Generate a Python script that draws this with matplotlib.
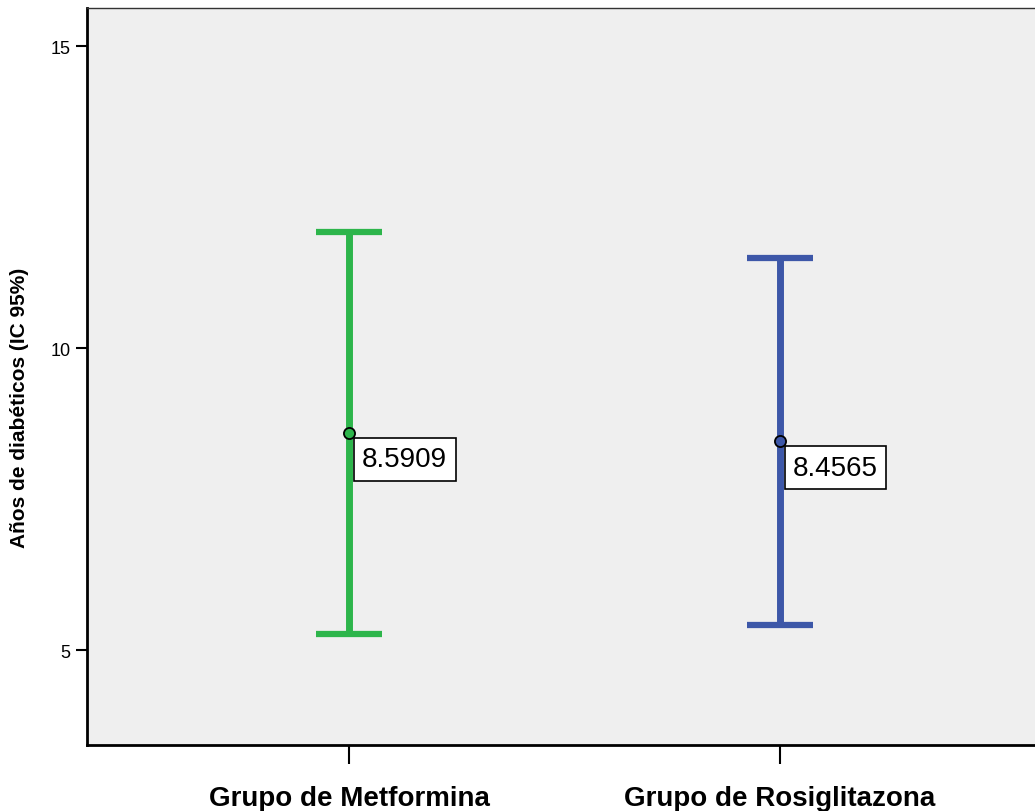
import matplotlib
matplotlib.use("Agg")
import matplotlib.pyplot as plt

# grupos y valores (media e IC 95%)
grupos = ["Grupo de Metformina", "Grupo de Rosiglitazona"]
medias = [8.5909, 8.4565]
ic_inf = [5.26, 5.41]
ic_sup = [11.93, 11.49]
colores = ["#2db54b", "#3d57a8"]

plt.rcParams['font.family'] = ['Liberation Sans', 'DejaVu Sans']

fig = plt.figure(figsize=(10.35, 8.12), dpi=100)
ax = fig.add_axes([87 / 1035, 1 - 746 / 812, 1 - 87 / 1035, (746 - 9) / 812])
ax.set_facecolor("#efefef")

for i in range(len(grupos)):
    err = [[medias[i] - ic_inf[i]], [ic_sup[i] - medias[i]]]
    ax.errorbar([i], [medias[i]], yerr=err, fmt='none', ecolor=colores[i],
                elinewidth=5, capsize=24, capthick=4.5, zorder=2)
    ax.plot([i], [medias[i]], 'o', markersize=8, markerfacecolor=colores[i],
            markeredgecolor='black', markeredgewidth=1.3, zorder=3)
    ax.annotate("%.4f" % medias[i], xy=(i, medias[i]), xytext=(9.5, -9.5),
                textcoords='offset points', ha='left', va='top', fontsize=20,
                bbox=dict(boxstyle='square,pad=0.3', facecolor='white',
                          edgecolor='black', linewidth=1.2), zorder=4)

ax.set_xlim(-0.608, 1.592)
ax.set_ylim(3.43, 15.63)
ax.set_yticks([5, 10, 15])
ax.set_xticks(range(len(grupos)))
ax.set_xticklabels(grupos, fontsize=20, fontweight='bold')
ax.tick_params(axis='y', labelsize=13, length=8, width=1.5, pad=4)
ax.tick_params(axis='x', length=14, width=1.5, pad=15)
ax.set_ylabel("Años de diabéticos (IC 95%)", fontsize=15, fontweight='bold')
ax.yaxis.set_label_coords(-0.061, 0.4586)

ax.spines['left'].set_linewidth(2)
ax.spines['bottom'].set_linewidth(2)
ax.spines['top'].set_linewidth(1)
ax.spines['top'].set_color('#333333')
ax.spines['right'].set_visible(False)

fig.savefig("out.png", dpi=100)
